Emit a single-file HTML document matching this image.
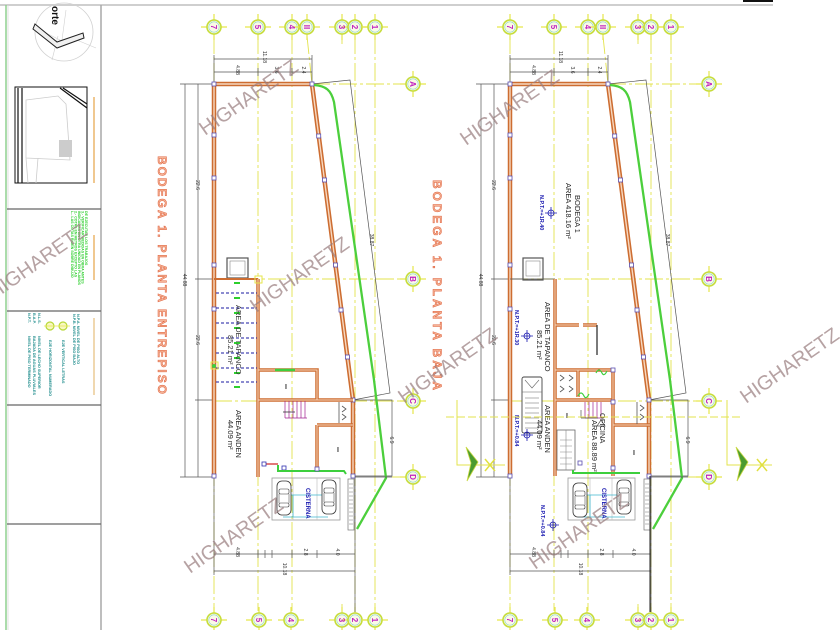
<!DOCTYPE html>
<html><head><meta charset="utf-8"><style>
html,body{margin:0;padding:0;background:#fff;}
svg{display:block;font-family:"Liberation Sans",sans-serif;}
</style></head><body>
<svg width="840" height="630" viewBox="0 0 840 630" xmlns="http://www.w3.org/2000/svg">
<defs>
<g id="bub">
 <line x1="-13" y1="0" x2="13" y2="0" stroke="#e6e64a" stroke-width="1.2"/>
 <line x1="0" y1="-13" x2="0" y2="13" stroke="#e6e64a" stroke-width="1.2"/>
 <circle r="7" fill="#fafae6" stroke="#c6dc3a" stroke-width="1.6"/>
 <circle r="5.2" fill="none" stroke="#8ad8c8" stroke-width="0.6"/>
</g>
<g id="car">
 <rect x="-7" y="-17" width="14" height="34" rx="5" fill="#fff" stroke="#333" stroke-width="0.8"/>
 <rect x="-5" y="-9" width="10" height="5" rx="1.5" fill="none" stroke="#333" stroke-width="0.6"/>
 <rect x="-5" y="5" width="10" height="4" rx="1.5" fill="none" stroke="#333" stroke-width="0.6"/>
 <line x1="-5" y1="-4" x2="-5" y2="5" stroke="#333" stroke-width="0.5"/>
 <line x1="5" y1="-4" x2="5" y2="5" stroke="#333" stroke-width="0.5"/>
</g>
<rect id="col" x="-2" y="-2" width="4" height="4" fill="#fff" stroke="#5a4fb0" stroke-width="0.8"/>
<g id="shell">
 <!-- axis lines -->
 <path d="M214 36V611M258 36V611M292 36V611M355 36V611M375 36V611M307 36L312 84M312 84H402M214 279H402M214 401H402M392 477H402M342 36V44M342 604V611" stroke="#e3e34c" stroke-width="0.9" stroke-dasharray="18 3 3 3" fill="none"/>
 <!-- bubbles top -->
 <use href="#bub" x="214" y="27"/><use href="#bub" x="258" y="27"/><use href="#bub" x="292" y="27"/><use href="#bub" x="307" y="27"/><use href="#bub" x="342" y="27"/><use href="#bub" x="355" y="27"/><use href="#bub" x="375" y="27"/>
 <use href="#bub" x="214" y="620"/><use href="#bub" x="259" y="620"/><use href="#bub" x="291" y="620"/><use href="#bub" x="342" y="620"/><use href="#bub" x="355" y="620"/><use href="#bub" x="375" y="620"/>
 <use href="#bub" x="413" y="84"/><use href="#bub" x="413" y="279"/><use href="#bub" x="413" y="401"/><use href="#bub" x="413" y="477"/>
 <g fill="#c020c0" font-size="8" font-weight="bold" text-anchor="middle">
  <text transform="translate(214,27) rotate(90)" dy="3">7</text>
  <text transform="translate(258,27) rotate(90)" dy="3">5</text>
  <text transform="translate(292,27) rotate(90)" dy="3">4</text>
  <text transform="translate(307,27) rotate(90)" dy="3">II</text>
  <text transform="translate(342,27) rotate(90)" dy="3">3</text>
  <text transform="translate(355,27) rotate(90)" dy="3">2</text>
  <text transform="translate(375,27) rotate(90)" dy="3">1</text>
  <text transform="translate(214,620) rotate(90)" dy="3">7</text>
  <text transform="translate(259,620) rotate(90)" dy="3">5</text>
  <text transform="translate(291,620) rotate(90)" dy="3">4</text>
  <text transform="translate(342,620) rotate(90)" dy="3">3</text>
  <text transform="translate(355,620) rotate(90)" dy="3">2</text>
  <text transform="translate(375,620) rotate(90)" dy="3">1</text>
  <text transform="translate(413,84) rotate(90)" dy="3">A</text>
  <text transform="translate(413,279) rotate(90)" dy="3">B</text>
  <text transform="translate(413,401) rotate(90)" dy="3">C</text>
  <text transform="translate(413,477) rotate(90)" dy="3">D</text>
 </g>
 <!-- dimension lines -->
 <path d="M214 55V84M312 55V84M214 59H312M214 72H312M258 68V76M292 68V76M180 84H214M180 477H214M185 84V477M198 84V477M195 279H227M195 400H214M214 477V575M355 477V575M214 554H355M214 571H355M258 550V558M265 550V558M272 550V558M292 550V558M317 550V558M353 400H392V476H353M353 400L390 393L350 80L312 84M355 476V612" stroke="#555" stroke-width="0.7" fill="none"/>
 <g fill="#333" font-size="5" text-anchor="middle">
  <text transform="translate(263,57) rotate(90)">11.18</text>
  <text transform="translate(236,70) rotate(90)">4.88</text>
  <text transform="translate(275,70) rotate(90)">3.6</text>
  <text transform="translate(302,70) rotate(90)">2.4</text>
  <text transform="translate(183,280) rotate(90)">44.88</text>
  <text transform="translate(196,185) rotate(90)">22.6</text>
  <text transform="translate(196,340) rotate(90)">22.6</text>
  <text transform="translate(283,569) rotate(90)">10.18</text>
  <text transform="translate(236,552) rotate(90)">4.88</text>
  <text transform="translate(304,552) rotate(90)">2.8</text>
  <text transform="translate(336,552) rotate(90)">4.0</text>
  <text transform="translate(390,440) rotate(90)">6.9</text>
  <text transform="translate(370,240) rotate(90)">38.87</text>
 </g>
 <!-- outer walls -->
 <path d="M214 84H312L353 400V477M214 84V477" stroke="#cd6d31" stroke-width="4.5" fill="none"/>
 <path d="M214 84H312L353 400V477M214 84V477" stroke="#f7d8c0" stroke-width="1.4" fill="none"/>
 <use href="#col" x="214" y="84"/><use href="#col" x="312" y="84"/>
 <use href="#col" x="214" y="135"/><use href="#col" x="214" y="178"/><use href="#col" x="214" y="265"/><use href="#col" x="214" y="309"/>
 <use href="#col" x="318.7" y="136"/><use href="#col" x="324.5" y="180"/><use href="#col" x="335.5" y="265"/><use href="#col" x="341" y="310"/><use href="#col" x="347.4" y="357"/><use href="#col" x="353" y="400"/><use href="#col" x="353" y="476"/><use href="#col" x="214" y="476"/>
 <!-- green boundary -->
 <path d="M314 85C326 86 331 90 334 102L374 380L386 478L357 529" stroke="#4ccf3c" stroke-width="2.3" fill="none"/>
 <!-- parking -->
 <path d="M355 477H392" stroke="#555" stroke-width="0.8"/>
</g>
</defs>

<!-- page frame -->
<line x1="0" y1="5" x2="773" y2="5" stroke="#cfcfcf" stroke-width="2"/>
<rect x="743" y="0" width="30" height="2" fill="#111"/>

<!-- LEFT INFO PANEL -->
<line x1="6" y1="5" x2="6" y2="630" stroke="#8fd08f" stroke-width="1.5"/>
<line x1="8" y1="5" x2="8" y2="630" stroke="#d8d8d8" stroke-width="0.8"/>
<line x1="101" y1="5" x2="101" y2="630" stroke="#a8a8a8" stroke-width="1.5"/>
<path d="M7 209H101M7 311H101M7 405H101M7 524H101" stroke="#666" stroke-width="1.2"/>
<!-- north arrow -->
<circle cx="64" cy="32" r="29" fill="none" stroke="#d0d0d0" stroke-width="0.8"/>
<path d="M52 60L58 36M40 30L64 42M72 38L96 48M66 10L62 40" stroke="#d0d0d0" stroke-width="0.6"/>
<path d="M35 24L57 42L83 33L84 38L57 48L33 29Z" fill="#f0f0f0" stroke="#222" stroke-width="1"/>
<text transform="translate(52,6) rotate(90)" font-size="10" font-weight="bold" fill="#111">orte</text>
<!-- site plan -->
<rect x="15" y="87" width="72" height="96" fill="#fff" stroke="#111" stroke-width="1"/>
<path d="M18 88V183M22 88V183M60 88L87 108M63 88L87 104" stroke="#111" stroke-width="1.2" fill="none"/>
<path d="M26 100L58 96L66 104L70 160L26 158Z M26 158L28 183M38 158L36 183" stroke="#ccc" stroke-width="0.8" fill="none"/>
<rect x="59" y="140" width="13" height="17" fill="#ccc"/>
<rect x="93" y="97" width="2" height="86" fill="#f0c890"/>
<!-- green notes -->
<g fill="#2dcf2d" font-size="3.6" font-weight="bold">
 <text transform="translate(71,211) rotate(90)">L.- LAS COTAS RIGEN SOBRE DIBUJO</text>
 <text transform="translate(74.5,211) rotate(90)">2.- COTAS EN METROS EXCEPTO LAS</text>
 <text transform="translate(78,211) rotate(90)">INDICADAS EN OTRA UNIDAD EN PLANOS</text>
 <text transform="translate(81.5,211) rotate(90)">3.- VERIFICAR MEDIDAS EN OBRA ANTES</text>
 <text transform="translate(85,211) rotate(90)">DE EJECUTAR LOS TRABAJOS</text>
</g>
<rect x="93" y="235" width="2" height="45" fill="#f0c890"/>
<!-- teal legend -->
<g fill="#1a8a8a" font-size="3.8" font-weight="bold">
 <text transform="translate(28,313) rotate(90)">N.P.T.</text>
 <text transform="translate(33,313) rotate(90)">B.A.P.</text>
 <text transform="translate(38,313) rotate(90)">N.L.S.</text>
 <text transform="translate(28,336) rotate(90)">NIVEL DE PISO TERMINADO</text>
 <text transform="translate(33,336) rotate(90)">BAJADA DE AGUAS PLUVIALES</text>
 <text transform="translate(38,336) rotate(90)">NIVEL DE LECHO SUPERIOR</text>
 <text transform="translate(49,340) rotate(90)">EJE HORIZONTAL NUMERADO</text>
 <text transform="translate(62,340) rotate(90)">EJE VERTICAL LETRAS</text>
 <text transform="translate(73,314) rotate(90)">N.P.B. NIVEL DE PISO BAJO</text>
 <text transform="translate(77,314) rotate(90)">N.P.A. NIVEL DE PISO ALTO</text>
</g>
<circle cx="50" cy="326" r="4" fill="#f8f8c0" stroke="#b8d838" stroke-width="1.2"/>
<circle cx="63" cy="326" r="4" fill="#f8f8c0" stroke="#b8d838" stroke-width="1.2"/>
<path d="M44 326H70" stroke="#e6e64a" stroke-width="0.8"/>
<rect x="93" y="318" width="2" height="77" fill="#f0d8b0"/>

<!-- PLAN SHELLS -->
<use href="#shell"/>
<use href="#shell" transform="translate(296,0)"/>

<!-- TITLES -->
<g font-size="12" font-weight="bold" fill="#f4b496" stroke="#e0603c" stroke-width="0.5">
 <text transform="translate(158,156) rotate(90)" textLength="238" lengthAdjust="spacing">BODEGA 1.  PLANTA ENTREPISO</text>
 <text transform="translate(433,180) rotate(90)" textLength="210" lengthAdjust="spacing">BODEGA 1.  PLANTA BAJA</text>
</g>

<!-- LEFT PLAN INTERIOR -->
<rect x="227" y="258" width="21" height="20" fill="none" stroke="#555" stroke-width="1.2"/>
<rect x="230" y="261" width="15" height="14" fill="none" stroke="#888" stroke-width="0.6"/>
<path d="M214 279H258" stroke="#cd6d31" stroke-width="2"/>
<path d="M258 279V477M258 370H317V400M258 400H353M317 425V470M317 425H353" stroke="#cd6d31" stroke-width="3.5" fill="none"/>
<path d="M258 279V477M258 370H317V400M258 400H353M317 425V470M317 425H353" stroke="#f7d8c0" stroke-width="1" fill="none"/>
<path d="M275 370H295" stroke="#3dcf3d" stroke-width="2.5"/>
<g stroke="#1a1aa0" stroke-width="1.1" stroke-dasharray="3 2">
 <path d="M216 293H257M216 308H257M216 323H257M216 338H257M216 353H257M216 368H257M216 382H257"/>
</g>
<g stroke="#2dcf2d" stroke-width="2">
 <path d="M234 283H240M234 298H240M234 313H240M234 328H240M234 343H240M234 358H240M234 373H240M234 387H240"/>
</g>
<rect x="255" y="276" width="7" height="7" fill="none" stroke="#e6e64a" stroke-width="1"/>
<rect x="211" y="362" width="7" height="7" fill="none" stroke="#e6e64a" stroke-width="1"/>
<circle cx="214" cy="366" r="2" fill="#3dcf3d"/>
<!-- stair -->
<g stroke="#a02090" stroke-width="0.7">
 <path d="M285 401V418M289 401V418M293 401V418M297 401V418M301 401V418M305 401V418M285 418H307"/>
</g>
<path d="M283 412H295" stroke="#333" stroke-width="0.8"/>
<!-- wc -->
<path d="M339 402V423M342 406l4 3-4 3M342 414l4 3-4 3" stroke="#555" stroke-width="0.8" fill="none"/>
<text x="337" y="452" font-size="7" font-weight="bold" fill="#333">I</text>
<text x="285" y="389" font-size="7" font-weight="bold" fill="#333">I</text>
<path d="M264 464H278" stroke="#d02020" stroke-width="1.2"/>
<rect x="262" y="462" width="4" height="4" fill="#fff" stroke="#3030b0" stroke-width="0.8"/>
<rect x="282" y="466" width="4" height="4" fill="#fff" stroke="#3030b0" stroke-width="0.8"/>
<path d="M278 465V471H344L346 474" stroke="#3dcf3d" stroke-width="2" fill="none"/>
<use href="#col" x="317" y="469"/>
<!-- parking -->
<rect x="272" y="478" width="68" height="42" fill="none" stroke="#999" stroke-width="0.8"/>
<path d="M293 478V520M317 478V520" stroke="#bbb" stroke-width="0.6"/>
<path d="M283 495H328M283 517H328M293 495V517" stroke="#40b8d0" stroke-width="0.8" fill="none"/>
<use href="#car" x="284" y="498"/>
<use href="#car" x="329" y="497"/>
<rect x="348" y="479" width="6" height="51" fill="none" stroke="#777" stroke-width="0.7"/>
<path d="M349 484h4M349 488h4M349 492h4M349 496h4M349 500h4M349 504h4M349 508h4M349 512h4M349 516h4M349 520h4M349 524h4" stroke="#777" stroke-width="0.5"/>
<text transform="translate(306,488) rotate(90)" font-size="6" font-weight="bold" fill="#1a1ab0">CISTERNA</text>
<g font-size="7.5" fill="#222">
 <text transform="translate(236,410) rotate(90)">AREA ANDEN</text>
 <text transform="translate(228,420) rotate(90)">44.09 m²</text>
 <text transform="translate(236,305) rotate(90)" fill="#333">AREA DE TAPANCO</text>
 <text transform="translate(228,335) rotate(90)" fill="#333">85.21 m²</text>
</g>

<!-- RIGHT PLAN INTERIOR -->
<rect x="523" y="258" width="20" height="22" fill="none" stroke="#555" stroke-width="1.2"/>
<rect x="526" y="261" width="14" height="15" fill="none" stroke="#888" stroke-width="0.6"/>
<path d="M510 279H555" stroke="#555" stroke-width="0.8"/>
<path d="M555 279V476M555 325H579M583 325H597M555 370H613M555 400H613M578 370V397M613 370V476M613 425H650M555 430V476" stroke="#cd6d31" stroke-width="3.5" fill="none"/>
<path d="M555 279V476M555 325H579M583 325H597M555 370H613M555 400H613M578 370V397M613 370V476M613 425H650" stroke="#f7d8c0" stroke-width="1" fill="none"/>
<path d="M597 325V355" stroke="#333" stroke-width="1.3"/>
<path d="M596 373q3 -6 6 0q2 4 5 -2" stroke="#3dcf3d" stroke-width="1.2" fill="none"/>
<path d="M578 396q3 -6 6 0q2 4 5 -2" stroke="#3dcf3d" stroke-width="1.2" fill="none"/>
<use href="#col" x="613" y="370"/><use href="#col" x="613" y="402"/><use href="#col" x="613" y="468"/><use href="#col" x="580" y="463"/>
<!-- wc left -->
<path d="M560 375l4 3-4 3M560 386l4 3-4 3M569 375l4 3-4 3M569 386l4 3-4 3" stroke="#555" stroke-width="0.8" fill="none"/>
<!-- stair -->
<g stroke="#a02090" stroke-width="0.7">
 <path d="M585 402V418M589 402V418M593 402V418M597 402V418M601 402V418M585 418H603"/>
</g>
<path d="M581 410V418M581 418H598" stroke="#555" stroke-width="0.7"/>
<text x="566" y="418" font-size="7" font-weight="bold" fill="#333">I</text>
<text x="633" y="455" font-size="7" font-weight="bold" fill="#333">I</text>
<!-- stair lower -->
<rect x="557" y="430" width="18" height="40" fill="none" stroke="#666" stroke-width="0.8"/>
<path d="M560 440H572M560 446H572M560 452H572M560 458H572M560 464H572M566 430V470" stroke="#888" stroke-width="0.6"/>
<!-- wc right -->
<path d="M637 402V424M640 405l4 3-4 3M640 414l4 3-4 3" stroke="#555" stroke-width="0.8" fill="none"/>
<path d="M601 420l4 6h-8z" fill="none" stroke="#555" stroke-width="0.7"/>
<path d="M573 470V473H640" stroke="#3dcf3d" stroke-width="2" fill="none"/>
<!-- truck -->
<rect x="522" y="377" width="20" height="56" rx="2" fill="#fff" stroke="#444" stroke-width="0.9"/>
<path d="M522 392H542M525 380L532 388L539 380M525 398H539M525 403H539M525 408H539M525 413H539M525 418H539M525 423H539M525 428H539" stroke="#666" stroke-width="0.6" fill="none"/>
<!-- parking -->
<rect x="568" y="478" width="67" height="42" fill="none" stroke="#999" stroke-width="0.8"/>
<path d="M590 478V520M612 478V520" stroke="#bbb" stroke-width="0.6"/>
<path d="M578 495H625M578 517H625M590 495V517" stroke="#40b8d0" stroke-width="0.8" fill="none"/>
<use href="#car" x="580" y="500"/>
<use href="#car" x="624" y="497"/>
<rect x="644" y="479" width="6" height="51" fill="none" stroke="#777" stroke-width="0.7"/>
<path d="M645 484h4M645 488h4M645 492h4M645 496h4M645 500h4M645 504h4M645 508h4M645 512h4M645 516h4M645 520h4M645 524h4" stroke="#777" stroke-width="0.5"/>
<path d="M650 476V612" stroke="#222" stroke-width="1"/>
<text transform="translate(602,488) rotate(90)" font-size="6" font-weight="bold" fill="#1a1ab0">CISTERNA</text>
<!-- right labels -->
<g font-size="7.5" fill="#222">
 <text transform="translate(575,195) rotate(90)">BODEGA 1</text>
 <text transform="translate(566,183) rotate(90)">AREA  418.16 m²</text>
 <text transform="translate(545,302) rotate(90)">AREA DE TAPANCO</text>
 <text transform="translate(537,330) rotate(90)">85.21 m²</text>
 <text transform="translate(545,405) rotate(90)">AREA ANDEN</text>
 <text transform="translate(537,420) rotate(90)">44.09 m²</text>
 <text transform="translate(600,413) rotate(90)">OFICINA</text>
 <text transform="translate(592,420) rotate(90)">AREA  88.89 m²</text>
</g>
<g font-size="5.5" font-weight="bold" fill="#1a1ab0">
 <text transform="translate(540,195) rotate(90)">N.P.T.=+1R.40</text>
 <text transform="translate(515,310) rotate(90)">N.P.T.=+1R.30</text>
 <text transform="translate(515,415) rotate(90)">N.P.T.=+0.84</text>
 <text transform="translate(541,505) rotate(90)">N.P.T.=+0.84</text>
</g>
<g stroke="#1a1ab0" stroke-width="0.8" fill="none">
 <circle cx="551" cy="213" r="3"/><path d="M545 213h12M551 207v12"/>
 <circle cx="527" cy="336" r="3"/><path d="M521 336h12M527 330v12"/>
 <circle cx="527" cy="435" r="3"/><path d="M521 435h12M527 429v12"/>
 <circle cx="553" cy="525" r="3"/><path d="M547 525h12M553 519v12"/>
</g>
<!-- section markers -->
<path d="M446 417H740" stroke="#e3e34c" stroke-width="1" stroke-dasharray="8 3"/>
<path d="M457 400V465H505M727 400V465H772" stroke="#e3e34c" stroke-width="1" fill="none"/>
<path d="M466 447L478 462L467 481L471 463Z" fill="#4a9a30" stroke="#c8d840" stroke-width="0.8"/>
<path d="M736 447L748 462L737 481L741 463Z" fill="#4a9a30" stroke="#c8d840" stroke-width="0.8"/>
<path d="M485 459L495 471M495 459L485 471M757 459L767 471M767 459L757 471" stroke="#e0e040" stroke-width="1.5"/>

<!-- WATERMARKS -->
<g font-size="20" fill="#9a7e80" fill-opacity="0.72">
 <text transform="translate(205,136) rotate(-35)">HIGHARETZ</text>
 <text transform="translate(-6,300) rotate(-35)">HIGHARETZ</text>
 <text transform="translate(256,313) rotate(-35)">HIGHARETZ</text>
 <text transform="translate(466,146) rotate(-35)">HIGHARETZ</text>
 <text transform="translate(404,404) rotate(-35)">HIGHARETZ</text>
 <text transform="translate(746,404) rotate(-35)">HIGHARETZ</text>
 <text transform="translate(190,574) rotate(-35)">HIGHARETZ</text>
 <text transform="translate(535,570) rotate(-35)">HIGHARETZ</text>
</g>
</svg>
</body></html>
